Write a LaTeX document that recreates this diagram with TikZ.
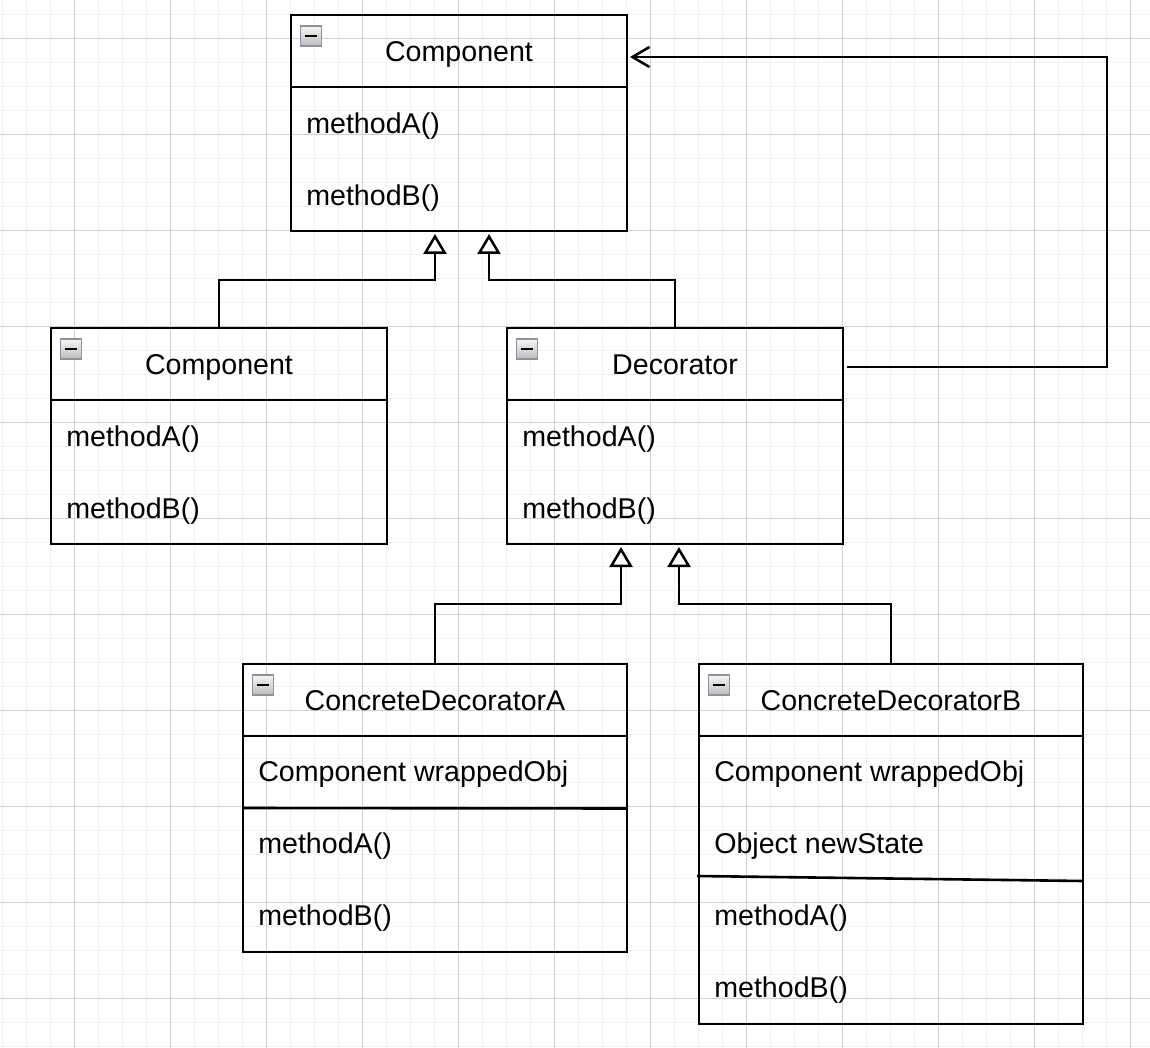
\documentclass[tikz,border=0pt]{standalone}
\usepackage{fontspec}
\setmainfont{Liberation Sans}
\usetikzlibrary{arrows.meta}
\definecolor{gridminor}{RGB}{242,242,242}
\definecolor{gridmajor}{RGB}{208,208,208}
\definecolor{iconedge}{RGB}{140,147,160}
\begin{document}
\begin{tikzpicture}[x=1pt,y=-1pt,line width=2.6pt,
  cls/.style={draw,inner sep=0pt,outer sep=0pt,anchor=north west},
  icon/.style={draw=iconedge,line width=1.6pt,top color=white!96!black,bottom color=white!74!black,
    minimum width=21pt,minimum height=20pt,inner sep=0pt,outer sep=0pt,anchor=north west,
    path picture={\fill[black] ([xshift=-6pt,yshift=-1.4pt]path picture bounding box.center) rectangle ([xshift=6pt,yshift=1.4pt]path picture bounding box.center);}},
  ttl/.style={font=\fontsize{28.6}{34}\selectfont,inner sep=0pt,anchor=base},
  mem/.style={font=\fontsize{28.6}{34}\selectfont,inner sep=0pt,anchor=base west},
  gen/.style={-{Triangle[fill=white,line width=2.5pt,length=20pt,width=23pt]},shorten >=3pt},
  assoc/.style={-{Straight Barb[line width=2.5pt,length=17pt,width=20pt]}}]
\fill[white] (0,0) rectangle (1150,1048);
\useasboundingbox (0,0) rectangle (1150,1048);
\begin{scope}
\clip (0,0) rectangle (1150,1048);
\draw[gridminor,line width=1.5pt,shift={(2.3,14.3)},step=24pt] (-24,-24) grid (1150,1048);
\draw[gridmajor,line width=1pt,shift={(74.3,38.3)},step=96pt] (-96,-96) grid (1150,1048);
\end{scope}
\node[cls,minimum width=336pt,minimum height=216pt] (comp) at (291,15) {};
\node[cls,minimum width=336pt,minimum height=216pt] (leaf) at (51,328) {};
\node[cls,minimum width=336pt,minimum height=216pt] (deco) at (507,328) {};
\node[cls,minimum width=384pt,minimum height=288pt] (cda) at (243,664) {};
\node[cls,minimum width=384pt,minimum height=360pt] (cdb) at (699,664) {};
\foreach \b in {comp,leaf,deco,cda,cdb}{
  \node[icon] (icon-\b) at ([xshift=9.5pt,yshift=-11pt]\b.north west) {};
  \draw ([yshift=-72pt]\b.north west) -- ([yshift=-72pt]\b.north east);
}
\draw ([yshift=-144pt]cda.north west) -- ([yshift=-144.5pt]cda.north east);
\draw ([xshift=-2pt,yshift=-212pt]cdb.north west) -- ([yshift=-217pt]cdb.north east);
\node[ttl] (comp-t) at ([yshift=-46.5pt]comp.north) {Component};
\node[ttl] (leaf-t) at ([yshift=-46.5pt]leaf.north) {Component};
\node[ttl] (deco-t) at ([yshift=-46.5pt]deco.north) {Decorator};
\node[ttl] (cda-t) at ([yshift=-46.5pt]cda.north) {ConcreteDecoratorA};
\node[ttl] (cdb-t) at ([yshift=-46.5pt]cdb.north) {ConcreteDecoratorB};
\foreach \b in {comp,leaf,deco}{
  \node[mem] (\b-a) at ([xshift=14pt,yshift=-118.5pt]\b.north west) {methodA()};
  \node[mem] (\b-b) at ([xshift=14pt,yshift=-190.5pt]\b.north west) {methodB()};
}
\node[mem] (cda-f) at ([xshift=14pt,yshift=-117.5pt]cda.north west) {Component wrappedObj};
\node[mem] (cda-a) at ([xshift=14pt,yshift=-189.5pt]cda.north west) {methodA()};
\node[mem] (cda-b) at ([xshift=14pt,yshift=-261.5pt]cda.north west) {methodB()};
\node[mem] (cdb-f) at ([xshift=14pt,yshift=-117.5pt]cdb.north west) {Component wrappedObj};
\node[mem] (cdb-s) at ([xshift=14pt,yshift=-189.5pt]cdb.north west) {Object newState};
\node[mem] (cdb-a) at ([xshift=14pt,yshift=-261.5pt]cdb.north west) {methodA()};
\node[mem] (cdb-b) at ([xshift=14pt,yshift=-333.5pt]cdb.north west) {methodB()};
\draw[gen] (leaf.north) -- ++(0,-48) -| ([xshift=-24pt]comp.south);
\draw[gen] (deco.north) -- ++(0,-48) -| ([xshift=30pt]comp.south);
\draw[gen] (cda.north) -- ++(0,-60) -| ([xshift=-54pt]deco.south);
\draw[gen] (cdb.north) -- ++(0,-60) -| ([xshift=4pt]deco.south);
\draw[assoc] ([xshift=4pt,yshift=-39pt]deco.north east) -- ++(260,0) |- ([xshift=3pt,yshift=-42pt]comp.north east);
\end{tikzpicture}
\end{document}
